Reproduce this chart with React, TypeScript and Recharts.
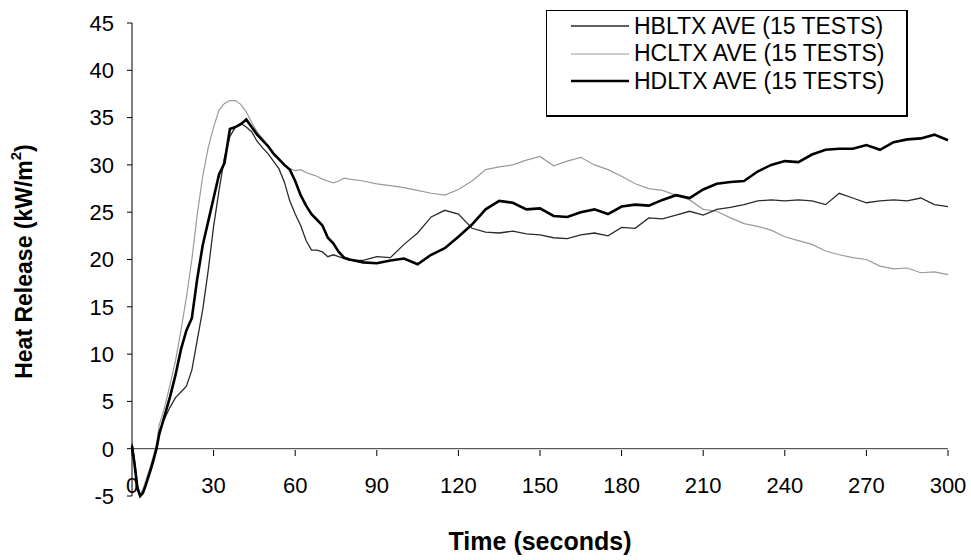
import React from 'react';
import { LineChart, Line, XAxis, YAxis, ReferenceLine, Legend, Label } from 'recharts';

const FONT = "'Liberation Sans', Arial, sans-serif";

const times = [
  0, 1, 2, 3, 4, 5, 6, 7, 8, 9, 10,
  12, 14, 16, 18, 20, 22, 24, 26, 28, 30, 32, 34, 36, 38, 40, 42, 44, 46, 48, 50,
  52, 54, 56, 58, 60, 62, 64, 66, 68, 70, 72, 74, 76, 78, 80,
  85, 90, 95, 100, 105, 110, 115, 120, 125, 130, 135, 140, 145, 150, 155, 160,
  165, 170, 175, 180, 185, 190, 195, 200, 205, 210, 215, 220, 225, 230, 235, 240,
  245, 250, 255, 260, 265, 270, 275, 280, 285, 290, 295, 300,
];

const hbltx = [
  0.5, -1.5, -4.0, -4.9, -4.6, -3.8, -3.0, -2.0, -1.0, 0.0, 1.8,
  3.2, 4.4, 5.4, 6.0, 6.6, 8.3, 11.5, 14.7, 18.8, 23.5, 27.3, 30.8, 33.0, 34.0, 34.4, 34.0, 33.5, 32.5, 31.8, 31.2,
  30.4, 29.6, 28.2, 26.2, 24.8, 23.6, 22.0, 21.0, 21.0, 20.8, 20.3, 20.5, 20.3, 20.1, 19.9,
  19.9, 20.3, 20.2, 21.6, 22.8, 24.5, 25.2, 24.8, 23.3, 22.9, 22.8, 23.0, 22.7, 22.6, 22.3, 22.2,
  22.6, 22.8, 22.5, 23.4, 23.3, 24.4, 24.3, 24.7, 25.1, 24.7, 25.3, 25.5, 25.8, 26.2, 26.3, 26.2,
  26.3, 26.2, 25.8, 27.0, 26.5, 26.0, 26.2, 26.3, 26.2, 26.5, 25.8, 25.6,
];

const hcltx = [
  0.6, -1.2, -3.8, -4.8, -4.3, -3.4, -2.5, -1.6, -0.6, 0.5, 2.5,
  4.4, 6.8, 9.3, 12.5, 16.0, 20.0, 24.8, 28.8, 31.8, 34.0, 35.8, 36.5, 36.8, 36.8, 36.4, 35.6, 34.5, 33.5, 32.8, 32.0,
  31.3, 30.6, 30.0, 29.6, 29.4, 29.5, 29.2, 29.0, 28.8, 28.5, 28.3, 28.1, 28.3, 28.6, 28.5,
  28.3, 28.0, 27.8, 27.6, 27.3, 27.0, 26.8, 27.4, 28.3, 29.5, 29.8, 30.0, 30.5, 30.9, 29.9, 30.4,
  30.8, 30.0, 29.5, 28.8, 28.0, 27.5, 27.3, 26.8, 26.3, 25.3, 25.1, 24.4, 23.8, 23.5, 23.1, 22.4,
  22.0, 21.6, 20.9, 20.5, 20.2, 20.0, 19.3, 19.0, 19.1, 18.6, 18.7, 18.4,
];

const hdltx = [
  0.3, -1.8, -4.2, -5.0, -4.7, -3.9, -3.0, -2.1, -1.1, 0.0, 1.5,
  3.5, 5.5, 7.8, 10.5, 12.5, 13.8, 18.0, 21.5, 24.0, 26.5, 29.0, 30.2, 33.8, 34.0, 34.3, 34.8, 34.0, 33.2, 32.6, 32.0,
  31.2, 30.6, 30.0, 29.5, 28.3, 26.8, 25.7, 24.8, 24.2, 23.6, 22.3, 21.7, 20.8, 20.2, 20.0,
  19.7, 19.6, 19.9, 20.1, 19.5, 20.5, 21.2, 22.4, 23.7, 25.3, 26.2, 26.0, 25.3, 25.4, 24.6, 24.5,
  25.0, 25.3, 24.8, 25.6, 25.8, 25.7, 26.3, 26.8, 26.5, 27.4, 28.0, 28.2, 28.3, 29.3, 30.0, 30.4,
  30.3, 31.1, 31.6, 31.7, 31.7, 32.1, 31.6, 32.4, 32.7, 32.8, 33.2, 32.6,
];

const xTicks = [0, 30, 60, 90, 120, 150, 180, 210, 240, 270, 300];
const yTicks = [-5, 0, 5, 10, 15, 20, 25, 30, 35, 40, 45];

const seriesNames = ['HBLTX AVE (15 TESTS)', 'HCLTX AVE (15 TESTS)', 'HDLTX AVE (15 TESTS)'];
const seriesColors = ['#2a2a2a', '#9a9a9a', '#000000'];
const seriesWidths = [1.3, 1.2, 2.6];

const data = times.map((t, i) => ({ t, hb: hbltx[i], hc: hcltx[i], hd: hdltx[i] }));

const ZERO_SHIFT = 46; // distance from plot bottom (-5) to the zero line

const XTick = (props: any) => {
  const { x, y, payload } = props;
  return (
    <g>
      <line x1={x} x2={x} y1={y - ZERO_SHIFT} y2={y - ZERO_SHIFT + 6} stroke="#000" strokeWidth={1} />
      <text x={x} y={y - 19} dy="0.71em" textAnchor="middle" fontSize={22} fontFamily={FONT} fill="#000">
        {payload.value}
      </text>
    </g>
  );
};

const LegendBox = () => (
  <div
    style={{
      width: 359,
      height: 104,
      borderTop: '1px solid #000',
      borderLeft: '1px solid #000',
      borderRight: '2px solid #000',
      borderBottom: '2px solid #000',
      background: '#fff',
      boxSizing: 'content-box',
      position: 'relative',
      fontFamily: FONT,
    }}
  >
    {seriesNames.map((name, i) => (
      <div
        key={name}
        style={{ position: 'absolute', left: 24, top: 3 + i * 27.5, height: 24, display: 'flex', alignItems: 'center' }}
      >
        <svg width={60} height={10} style={{ display: 'block' }}>
          <line x1={0} x2={58} y1={5} y2={5} stroke={seriesColors[i]} strokeWidth={seriesWidths[i]} />
        </svg>
        <span style={{ fontSize: 23, color: '#000', marginLeft: 3, whiteSpace: 'nowrap' }}>{name}</span>
      </div>
    ))}
  </div>
);

const YTitle = (props: any) => {
  const vb = props.viewBox || { x: 72, y: 23, width: 60, height: 473 };
  const cx = vb.x - 48;
  const cy = vb.y + vb.height / 2 + 2;
  return (
    <text
      x={cx}
      y={cy}
      transform={`rotate(-90 ${cx} ${cy})`}
      textAnchor="middle"
      dominantBaseline="central"
      fontSize={23}
      fontWeight="bold"
      fontFamily={FONT}
      fill="#000"
    >
      Heat Release (kW/m<tspan baselineShift="super" fontSize="65%">2</tspan>)
    </text>
  );
};

const XTitle = (props: any) => {
  const vb = props.viewBox || { x: 132, y: 496, width: 816, height: 60 };
  return (
    <text
      x={vb.x + vb.width / 2}
      y={vb.y + 54}
      textAnchor="middle"
      fontSize={25}
      fontWeight="bold"
      fontFamily={FONT}
      fill="#000"
    >
      Time (seconds)
    </text>
  );
};

export default function App() {
  return (
    <div style={{ position: 'absolute', left: 0, top: 0, width: 971, height: 560, background: '#fff' }}>
      <LineChart width={971} height={560} data={data} margin={{ top: 23, right: 23, left: 72, bottom: 4 }}>
        <XAxis
          dataKey="t"
          type="number"
          domain={[0, 300]}
          ticks={xTicks}
          axisLine={false}
          tickLine={false}
          tickSize={0}
          tickMargin={0}
          height={60}
          tick={<XTick />}
          interval={0}
        >
          <Label content={<XTitle />} />
        </XAxis>
        <YAxis
          type="number"
          domain={[-5, 45]}
          ticks={yTicks}
          width={60}
          interval={0}
          axisLine={{ stroke: '#000', strokeWidth: 1 }}
          tickLine={{ stroke: '#000', strokeWidth: 1 }}
          tickSize={5}
          tickMargin={13}
          tick={{ fontSize: 22, fill: '#000', fontFamily: FONT }}
        >
          <Label content={<YTitle />} />
        </YAxis>
        <ReferenceLine y={0} stroke="#333" strokeWidth={1} />
        <Legend
          layout="horizontal"
          verticalAlign="middle"
          align="center"
          content={<LegendBox />}
          wrapperStyle={{ position: 'absolute', left: 546, top: 10, width: 362, height: 107 }}
        />
        <Line type="linear" dataKey="hc" name={seriesNames[1]} stroke={seriesColors[1]} strokeWidth={seriesWidths[1]} dot={false} isAnimationActive={false} />
        <Line type="linear" dataKey="hb" name={seriesNames[0]} stroke={seriesColors[0]} strokeWidth={seriesWidths[0]} dot={false} isAnimationActive={false} />
        <Line type="linear" dataKey="hd" name={seriesNames[2]} stroke={seriesColors[2]} strokeWidth={seriesWidths[2]} dot={false} isAnimationActive={false} />
      </LineChart>
    </div>
  );
}
